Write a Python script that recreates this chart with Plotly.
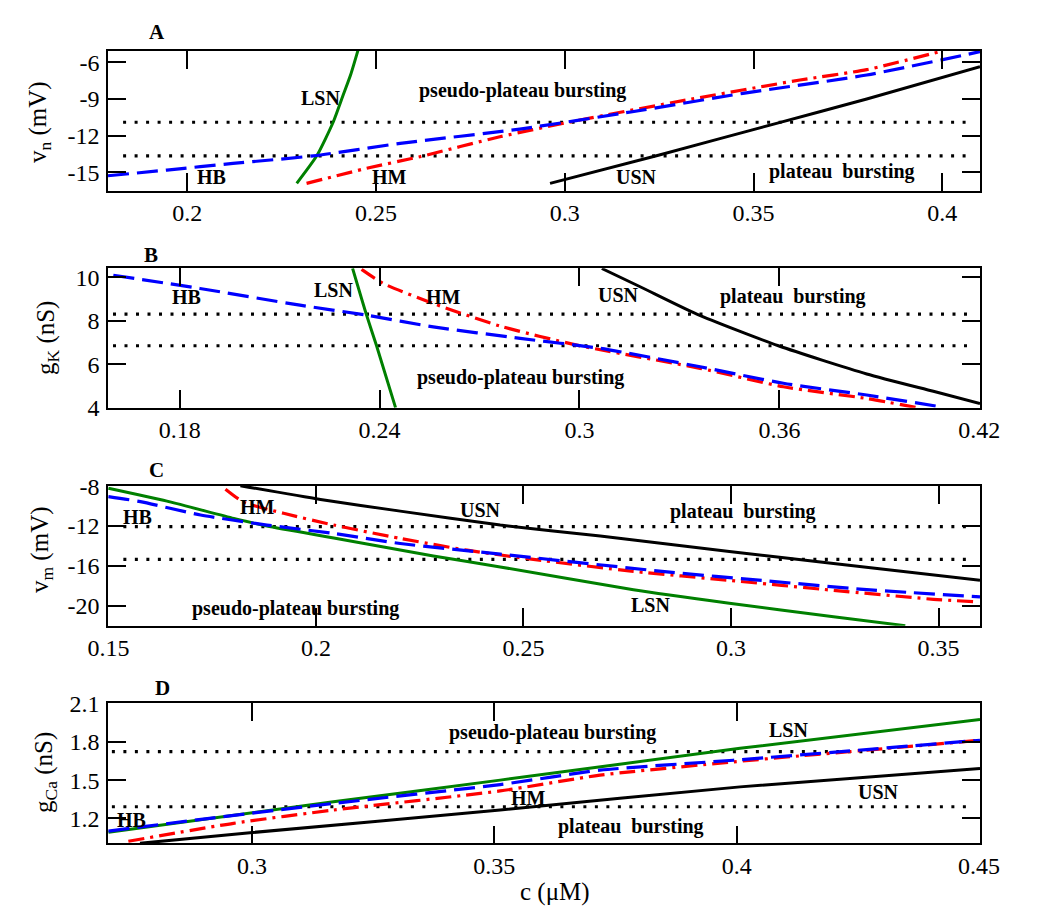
import plotly.graph_objects as go

# ---------------- Panel A : c vs v_n ----------------
A_lsn_c = [0.229, 0.2343, 0.2387, 0.2413, 0.2433, 0.2452]
A_lsn_v = [-15.9, -13.65, -10.86, -8.68, -7.0, -5.05]
A_hb_c = [0.179, 0.1946, 0.2121, 0.2334, 0.2564, 0.2881, 0.3179, 0.3472, 0.38, 0.41]
A_hb_v = [-15.28, -14.81, -14.27, -13.65, -12.63, -11.46, -10.04, -8.54, -7.04, -5.13]
A_hm_c = [0.2316, 0.2475, 0.2616, 0.2828, 0.304, 0.3323, 0.3623, 0.38, 0.4003]
A_hm_v = [-15.9, -14.67, -13.72, -12.09, -10.72, -9.08, -7.45, -6.6, -5.05]
A_usn_c = [0.2961, 0.3248, 0.3561, 0.38, 0.41]
A_usn_v = [-15.9, -13.6, -10.99, -9.0, -6.36]
A_dot_c = [0.183, 0.4073]
A_dot_levels = [-10.9, -13.65]
A_xticks = [0.2, 0.25, 0.3, 0.35, 0.4]
A_xticktext = ["0.2", "0.25", "0.3", "0.35", "0.4"]
A_yticks = [-6, -9, -12, -15]
A_yticktext = ["-6", "-9", "-12", "-15"]
A_labels = [("LSN", 0.2352, -8.92), ("pseudo-plateau bursting", 0.2887, -8.3),
            ("HB", 0.2065, -15.36), ("HM", 0.2537, -15.36), ("USN", 0.3191, -15.36),
            ("plateau\u00a0 bursting", 0.3734, -14.95)]

# ---------------- Panel B : c vs g_K ----------------
B_hb_c = [0.1601, 0.1861, 0.2161, 0.2361, 0.2561, 0.2822, 0.3062, 0.3362, 0.3612, 0.3862, 0.4082]
B_hb_g = [10.1, 9.49, 8.72, 8.26, 7.72, 7.19, 6.73, 5.88, 5.12, 4.58, 4.04]
B_hm_c = [0.2346, 0.2411, 0.2561, 0.2761, 0.2992, 0.3362, 0.3612, 0.3862, 0.4012]
B_hm_g = [10.37, 9.72, 8.8, 7.76, 6.88, 5.81, 4.96, 4.42, 4.0]
B_lsn_c = [0.2319, 0.2361, 0.2391, 0.2448]
B_lsn_g = [10.42, 8.26, 6.85, 4.0]
B_usn_c = [0.3067, 0.3182, 0.3352, 0.3597, 0.3862, 0.4062, 0.4202]
B_usn_g = [10.41, 9.57, 8.31, 6.85, 5.55, 4.75, 4.19]
B_dot_c = [0.16, 0.4172]
B_dot_levels = [8.31, 6.85]
B_xticks = [0.18, 0.24, 0.3, 0.36, 0.42]
B_xticktext = ["0.18", "0.24", "0.3", "0.36", "0.42"]
B_yticks = [4, 6, 8, 10]
B_yticktext = ["4", "6", "8", "10"]
B_labels = [("HB", 0.1821, 9.08), ("LSN", 0.2261, 9.42), ("HM", 0.2591, 9.08),
            ("USN", 0.3117, 9.18), ("plateau\u00a0 bursting", 0.3642, 9.1),
            ("pseudo-plateau bursting", 0.2822, 5.41)]

# ---------------- Panel C : c vs v_m ----------------
C_lsn_c = [0.15, 0.1641, 0.1802, 0.1882, 0.2043, 0.2283, 0.2444, 0.2765, 0.2996, 0.3247, 0.342]
C_lsn_v = [-8.2, -9.5, -11.23, -12.0, -13.2, -15.0, -16.1, -18.4, -19.75, -21.1, -22.0]
C_hb_c = [0.15, 0.1577, 0.1722, 0.1882, 0.2043, 0.2203, 0.2444, 0.2846, 0.3086, 0.3327, 0.36]
C_hb_v = [-9.05, -9.55, -10.89, -11.9, -12.74, -13.75, -14.82, -16.6, -17.5, -18.38, -19.1]
C_hm_c = [0.1782, 0.1826, 0.1922, 0.2043, 0.2203, 0.2364, 0.2524, 0.2765, 0.2996, 0.3247, 0.3488, 0.3592]
C_hm_v = [-8.3, -9.6, -10.72, -11.9, -13.24, -14.42, -15.35, -16.55, -17.45, -18.45, -19.35, -19.6]
C_usn_c = [0.1818, 0.2011, 0.2203, 0.2444, 0.2685, 0.2996, 0.3247, 0.36]
C_usn_v = [-7.95, -9.33, -10.5, -11.9, -13.0, -14.55, -15.75, -17.44]
C_dot_c = [0.1536, 0.3576]
C_dot_levels = [-12.05, -15.35]
C_xticks = [0.15, 0.2, 0.25, 0.3, 0.35]
C_xticktext = ["0.15", "0.2", "0.25", "0.3", "0.35"]
C_yticks = [-8, -12, -16, -20]
C_yticktext = ["-8", "-12", "-16", "-20"]
C_labels = [("HB", 0.1569, -11.06), ("HM", 0.1858, -10.05), ("USN", 0.2396, -10.39),
            ("plateau\u00a0 bursting", 0.303, -10.56), ("pseudo-plateau bursting", 0.195, -20.3),
            ("LSN", 0.2805, -19.93)]

# ---------------- Panel D : c vs g_Ca ----------------
D_lsn_c = [0.2704, 0.3168, 0.3512, 0.4007, 0.4502]
D_lsn_g = [1.09, 1.33, 1.5, 1.75, 1.975]
D_hb_c = [0.2704, 0.2895, 0.3168, 0.3512, 0.3718, 0.3993, 0.4268, 0.4502]
D_hb_g = [1.1, 1.192, 1.317, 1.465, 1.578, 1.656, 1.74, 1.813]
D_hm_c = [0.2745, 0.2962, 0.3168, 0.3512, 0.3718, 0.3993, 0.413, 0.4268, 0.4502]
D_hm_g = [1.02, 1.161, 1.265, 1.415, 1.539, 1.643, 1.69, 1.735, 1.813]
D_usn_c = [0.2769, 0.2996, 0.3512, 0.4007, 0.4502]
D_usn_g = [1.004, 1.087, 1.265, 1.447, 1.592]
D_dot_c = [0.2711, 0.4481]
D_dot_levels = [1.724, 1.291]
D_xticks = [0.3, 0.35, 0.4, 0.45]
D_xticktext = ["0.3", "0.35", "0.4", "0.45"]
D_yticks = [1.2, 1.5, 1.8, 2.1]
D_yticktext = ["1.2", "1.5", "1.8", "2.1"]
D_labels = [("HB", 0.2752, 1.187), ("pseudo-plateau bursting", 0.3619, 1.87),
            ("LSN", 0.4107, 1.89), ("HM", 0.357, 1.357), ("USN", 0.4292, 1.41),
            ("plateau\u00a0 bursting", 0.3783, 1.134)]

panel_letters = ["A", "B", "C", "D"]
y_titles = ["v<sub>n</sub> (mV)", "g<sub>K</sub> (nS)", "v<sub>m</sub> (mV)", "g<sub>Ca</sub> (nS)"]
x_title = "c (\u03bcM)"

# ---------------- styling ----------------
FONT = "Liberation Serif"
OFF = 8                      # page body margin of the browser
W, H = 1050 - 2 * OFF, 924 - 2 * OFF
BLUE, RED, GREEN, BLACK = "#0000ff", "#ff0000", "#008000", "#000000"


def fx(px):
    return (px - OFF) / W


def fy(py):
    return 1 - (py - OFF) / H


panels = [
    dict(lsn=(A_lsn_c, A_lsn_v), hb=(A_hb_c, A_hb_v), hm=(A_hm_c, A_hm_v), usn=(A_usn_c, A_usn_v),
         dot_c=A_dot_c, dots=A_dot_levels, xt=(A_xticks, A_xticktext), yt=(A_yticks, A_yticktext),
         xr=[0.179, 0.41], yr=[-16.5, -5.05], labels=A_labels, top=50.7, bot=190.7),
    dict(lsn=(B_lsn_c, B_lsn_g), hb=(B_hb_c, B_hb_g), hm=(B_hm_c, B_hm_g), usn=(B_usn_c, B_usn_g),
         dot_c=B_dot_c, dots=B_dot_levels, xt=(B_xticks, B_xticktext), yt=(B_yticks, B_yticktext),
         xr=[0.1585, 0.4202], yr=[3.995, 10.42], labels=B_labels, top=268.3, bot=407.7),
    dict(lsn=(C_lsn_c, C_lsn_v), hb=(C_hb_c, C_hb_v), hm=(C_hm_c, C_hm_v), usn=(C_usn_c, C_usn_v),
         dot_c=C_dot_c, dots=C_dot_levels, xt=(C_xticks, C_xticktext), yt=(C_yticks, C_yticktext),
         xr=[0.1499, 0.36], yr=[-22.0, -7.95], labels=C_labels, top=485.7, bot=625.7),
    dict(lsn=(D_lsn_c, D_lsn_g), hb=(D_hb_c, D_hb_g), hm=(D_hm_c, D_hm_g), usn=(D_usn_c, D_usn_g),
         dot_c=D_dot_c, dots=D_dot_levels, xt=(D_xticks, D_xticktext), yt=(D_yticks, D_yticktext),
         xr=[0.2703, 0.4502], yr=[1.004, 2.103], labels=D_labels, top=703.3, bot=843.3),
]

fig = go.Figure()
annotations = []
xdom = [fx(108), fx(980)]
layout_axes = {}

for i, p in enumerate(panels):
    n = "" if i == 0 else str(i + 1)
    xa, ya = "x" + n, "y" + n
    for lev in p["dots"]:
        fig.add_trace(go.Scatter(x=p["dot_c"], y=[lev, lev], mode="lines", xaxis=xa, yaxis=ya,
                                 line=dict(color=BLACK, width=3.2, dash="3px,8.5px"),
                                 showlegend=False, hoverinfo="skip"))
    fig.add_trace(go.Scatter(x=p["usn"][0], y=p["usn"][1], mode="lines", xaxis=xa, yaxis=ya,
                             line=dict(color=BLACK, width=3, shape="spline", smoothing=0.6),
                             showlegend=False))
    fig.add_trace(go.Scatter(x=p["lsn"][0], y=p["lsn"][1], mode="lines", xaxis=xa, yaxis=ya,
                             line=dict(color=GREEN, width=3, shape="spline", smoothing=0.6),
                             showlegend=False))
    fig.add_trace(go.Scatter(x=p["hm"][0], y=p["hm"][1], mode="lines", xaxis=xa, yaxis=ya,
                             line=dict(color=RED, width=3.2, dash="16px,6px,3px,6px",
                                       shape="spline", smoothing=0.6),
                             showlegend=False))
    fig.add_trace(go.Scatter(x=p["hb"][0], y=p["hb"][1], mode="lines", xaxis=xa, yaxis=ya,
                             line=dict(color=BLUE, width=3.2, dash="21px,8px",
                                       shape="spline", smoothing=0.6),
                             showlegend=False))

    ydom = [fy(p["bot"]), fy(p["top"])]
    axcommon = dict(showline=True, linecolor=BLACK, linewidth=1.6, mirror="ticks",
                    ticks="inside", ticklen=18, tickwidth=1.6, tickcolor=BLACK,
                    showgrid=False, zeroline=False, automargin=False,
                    tickfont=dict(family=FONT, size=24, color=BLACK))
    layout_axes["xaxis" + n] = dict(domain=xdom, anchor=ya, range=p["xr"],
                                    tickmode="array", tickvals=p["xt"][0], ticktext=p["xt"][1],
                                    ticklabelstandoff=0, **axcommon)
    layout_axes["yaxis" + n] = dict(domain=ydom, anchor=xa, range=p["yr"],
                                    tickmode="array", tickvals=p["yt"][0], ticktext=p["yt"][1],
                                    ticklabelstandoff=2, **axcommon)

    for txt, cx, cy in p["labels"]:
        annotations.append(dict(x=cx, y=cy, xref=xa, yref=ya, text="<b>" + txt + "</b>",
                                showarrow=False, xanchor="center", yanchor="middle",
                                font=dict(family=FONT, size=20, color=BLACK)))

letter_pos = [(157, 32), (151, 255), (156, 470), (162, 688)]
for L, (px, py) in zip(panel_letters, letter_pos):
    annotations.append(dict(x=fx(px), y=fy(py), xref="paper", yref="paper",
                            text="<b>" + L + "</b>", showarrow=False,
                            xanchor="center", yanchor="middle",
                            font=dict(family=FONT, size=21, color=BLACK)))

ytitle_pos = [(40, 122), (47, 338), (41, 550), (45, 773)]
for t, (px, py) in zip(y_titles, ytitle_pos):
    annotations.append(dict(x=fx(px), y=fy(py), xref="paper", yref="paper", text=t,
                            textangle=-90, showarrow=False,
                            xanchor="center", yanchor="middle",
                            font=dict(family=FONT, size=25, color=BLACK)))

annotations.append(dict(x=fx(555), y=fy(892), xref="paper", yref="paper", text=x_title,
                        showarrow=False, xanchor="center", yanchor="middle",
                        font=dict(family=FONT, size=25, color=BLACK)))

fig.update_layout(width=W, height=H, margin=dict(l=0, r=0, t=0, b=0, autoexpand=False),
                  paper_bgcolor="white", plot_bgcolor="white",
                  font=dict(family=FONT, color=BLACK),
                  annotations=annotations, showlegend=False, **layout_axes)

fig.write_html("out.html")
